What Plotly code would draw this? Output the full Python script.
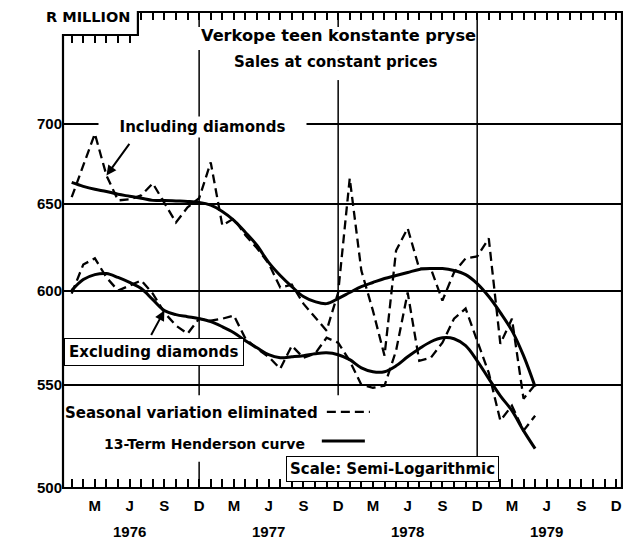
import math
import plotly.graph_objects as go

# ---------------- data ----------------
months = [f"{y}-{m:02d}" for y in (1976, 1977, 1978, 1979) for m in range(1, 13)][:41]

incl_sa = [654.0, 673.5, 693.5, 667.3, 652.1, 652.7, 655.1, 662.4, 650.3, 639.0,
           647.9, 653.4, 675.4, 637.2, 641.3, 631.4, 623.9, 615.2, 601.7, 603.3,
           592.8, 585.7, 578.2, 598.9, 665.5, 611.2, 589.0, 565.0, 622.6, 635.5,
           612.3, 612.3, 594.5, 610.1, 618.1, 619.2, 629.6, 571.2, 584.6, 543.0, 550.0]
incl_hc = [663.0, 660.6, 658.8, 657.5, 655.8, 654.6, 653.4, 652.1, 652.1, 651.8,
           651.5, 650.9, 649.2, 645.5, 640.2, 633.1, 625.5, 615.8, 608.4, 602.2,
           596.7, 593.9, 592.8, 595.6, 598.9, 602.2, 604.5, 606.7, 608.4, 610.1,
           611.8, 612.3, 612.3, 611.2, 608.9, 603.9, 596.7, 587.9, 578.2, 565.0, 549.0]
excl_sa = [598.3, 614.6, 618.1, 607.3, 600.0, 602.8, 605.6, 598.3, 587.9, 580.9,
           576.6, 584.6, 583.5, 584.6, 586.3, 573.9, 568.6, 564.4, 558.2, 570.2,
           563.9, 566.0, 574.4, 571.8, 562.3, 550.0, 548.5, 549.5, 567.6, 598.9,
           562.3, 563.9, 571.8, 584.6, 590.1, 572.8, 556.1, 532.1, 539.5, 527.2, 534.5]
excl_hc = [600.0, 606.1, 608.9, 609.5, 607.3, 604.5, 601.1, 595.0, 589.0, 586.8,
           585.7, 584.6, 583.0, 580.3, 577.1, 572.8, 569.1, 565.5, 563.9, 564.4,
           565.0, 566.0, 566.5, 565.5, 562.9, 558.7, 556.7, 556.7, 559.7, 564.4,
           568.6, 572.3, 574.4, 573.9, 570.2, 562.3, 553.1, 544.4, 537.0, 527.2, 518.5]

# month axis: index 0 = Dec 1975
tick_months = ["1976-03", "1976-06", "1976-09", "1976-12", "1977-03", "1977-06", "1977-09", "1977-12",
               "1978-03", "1978-06", "1978-09", "1978-12", "1979-03", "1979-06", "1979-09", "1979-12"]
tick_labels = ["M", "J", "S", "D"] * 4
year_labels = ["1976", "1977", "1978", "1979"]
year_months = ["1976-06", "1977-06", "1978-06", "1979-06"]
y_ticks = [500, 550, 600, 650, 700]


def midx(s):
    y, m = s.split("-")
    return (int(y) - 1975) * 12 + int(m) - 12


x = [midx(s) for s in months]
all_months = list(range(1, 49))
dec_lines = [midx(s) for s, l in zip(tick_months, tick_labels) if l == "D"][:-1]

X0, X1 = 0.25, 48.5
STEP = 0.134
FONT = "DejaVu Sans"
TFONT = "Liberation Sans"

fig = go.Figure()
dash_style = "9px,5px"
fig.add_trace(go.Scatter(x=x, y=incl_sa, mode="lines", line=dict(color="black", width=2.3, dash=dash_style)))
fig.add_trace(go.Scatter(x=x, y=excl_sa, mode="lines", line=dict(color="black", width=2.3, dash=dash_style)))
fig.add_trace(go.Scatter(x=x, y=incl_hc, mode="lines", line=dict(color="black", width=3, shape="spline")))
fig.add_trace(go.Scatter(x=x, y=excl_hc, mode="lines", line=dict(color="black", width=3, shape="spline")))
# carriers for the top tick rows
fig.add_trace(go.Scatter(x=[], y=[], xaxis="x2", yaxis="y"))
fig.add_trace(go.Scatter(x=[], y=[], xaxis="x3", yaxis="y"))

tickfont = dict(family=TFONT, size=15, color="black", weight=700)
common = dict(automargin=False, showgrid=False, zeroline=False, showline=False)

# the page body adds an 8px offset, so the figure is 8px smaller than the window
fig.update_layout(
    width=623, height=542,
    margin=dict(l=55, r=9, t=4, b=62),
    paper_bgcolor="white", plot_bgcolor="rgba(0,0,0,0)",
    showlegend=False,
    xaxis=dict(range=[X0, X1], tickmode="array", tickvals=[midx(s) for s in tick_months],
               ticktext=tick_labels, ticks="inside", ticklen=9, tickwidth=1.5, tickcolor="black",
               ticklabelstandoff=7,
               minor=dict(tickmode="array", tickvals=all_months, ticks="inside", ticklen=9,
                          tickwidth=1.5, tickcolor="black", showgrid=False),
               tickfont=tickfont, **common),
    xaxis2=dict(range=[X0 + STEP * (X1 - X0), X1], domain=[STEP, 1], anchor="free", position=1,
                side="top", tickmode="array", tickvals=all_months, ticks="inside", ticklen=7,
                tickwidth=1.5, tickcolor="black", showticklabels=False, **common),
    xaxis3=dict(range=[X0, X0 + STEP * (X1 - X0)], domain=[0, STEP], anchor="free",
                position=(488 - 35) / 476, side="top", tickmode="array", tickvals=all_months,
                ticks="inside", ticklen=7, tickwidth=1.5, tickcolor="black", showticklabels=False,
                **common),
    yaxis=dict(type="log", range=[math.log10(500), math.log10(776)], tickvals=y_ticks,
               ticktext=[str(v) for v in y_ticks], showgrid=True, gridcolor="black", gridwidth=1.5,
               zeroline=False, showline=False, ticks="", tickfont=tickfont, automargin=False),
)

shapes = []
for d in dec_lines:
    shapes.append(dict(type="line", xref="x", yref="paper", x0=d, x1=d, y0=0, y1=1,
                       line=dict(color="black", width=1.5), layer="between"))
# white areas behind key and title
for r in [(0.005, 0.55, 0.055, 0.195), (0.236, 0.728, 0.920, 0.9685), (0.469, 0.513, 0.857, 0.920)]:
    shapes.append(dict(type="rect", xref="paper", yref="paper", x0=r[0], x1=r[1], y0=r[2], y1=r[3],
                       fillcolor="white", line=dict(width=0), layer="between"))
# frame with stepped top
ys = (488 - 35) / 476
shapes.append(dict(type="path", xref="paper", yref="paper",
                   path=f"M 0 {ys} L {STEP} {ys} L {STEP} 1 L 1 1 L 1 0 L 0 0 Z",
                   line=dict(color="black", width=2.2)))
# key samples
shapes.append(dict(type="line", xref="paper", yref="paper", x0=0.472, x1=0.549, y0=0.160, y1=0.160,
                   line=dict(color="black", width=2.3, dash=dash_style)))
shapes.append(dict(type="line", xref="paper", yref="paper", x0=0.463, x1=0.540, y0=0.0987, y1=0.0987,
                   line=dict(color="black", width=3)))
fig.update_layout(shapes=shapes)

lab = dict(family=FONT, size=15, color="black", weight=700)
A = dict(xref="paper", yref="paper", showarrow=False, xanchor="center", yanchor="middle")
ann = [
    dict(text="R MILLION", x=0.045, y=0.9895,
         font=dict(family=FONT, size=14.5, color="black", weight=700), **A),
    dict(text="Verkope teen konstante pryse", x=0.492, y=0.9496, font={**lab, "size": 16.2}, **A),
    dict(text="Sales at constant prices", x=0.488, y=0.895, font=lab, **A),
    dict(text="Including diamonds", x=0.2487, y=0.7584, font=lab, bgcolor="white", width=205, **A),
    dict(text="Excluding diamonds", x=0.1628, y=0.2857, font=lab, bgcolor="white",
         bordercolor="black", borderwidth=1, borderpad=4, **A),
    dict(text="Seasonal variation eliminated", x=0.4597, y=0.1576, font=lab,
         **{**A, "xanchor": "right"}),
    dict(text="13-Term Henderson curve", x=0.4365, y=0.0924, font={**lab, "size": 14},
         **{**A, "xanchor": "right"}),
    dict(text="Scale: Semi-Logarithmic", x=0.5886, y=0.0399, font=lab, bgcolor="white",
         bordercolor="black", borderwidth=1, borderpad=3, **A),
    # pointers
    dict(text="", x=x[3], y=math.log10(incl_sa[3]), xref="x", yref="y", ax=24, ay=-33,
         showarrow=True, arrowhead=2, arrowsize=1, arrowwidth=2, arrowcolor="black"),
    dict(text="", x=x[8], y=math.log10(excl_hc[8]), xref="x", yref="y", ax=-14, ay=26,
         showarrow=True, arrowhead=2, arrowsize=1, arrowwidth=2, arrowcolor="black"),
]
for yl, ym in zip(year_labels, year_months):
    ann.append(dict(text=yl, xref="x", yref="paper", x=midx(ym), y=-0.091, showarrow=False,
                    xanchor="center", yanchor="middle", font=tickfont))
fig.update_layout(annotations=ann)

fig.write_html("out.html")
